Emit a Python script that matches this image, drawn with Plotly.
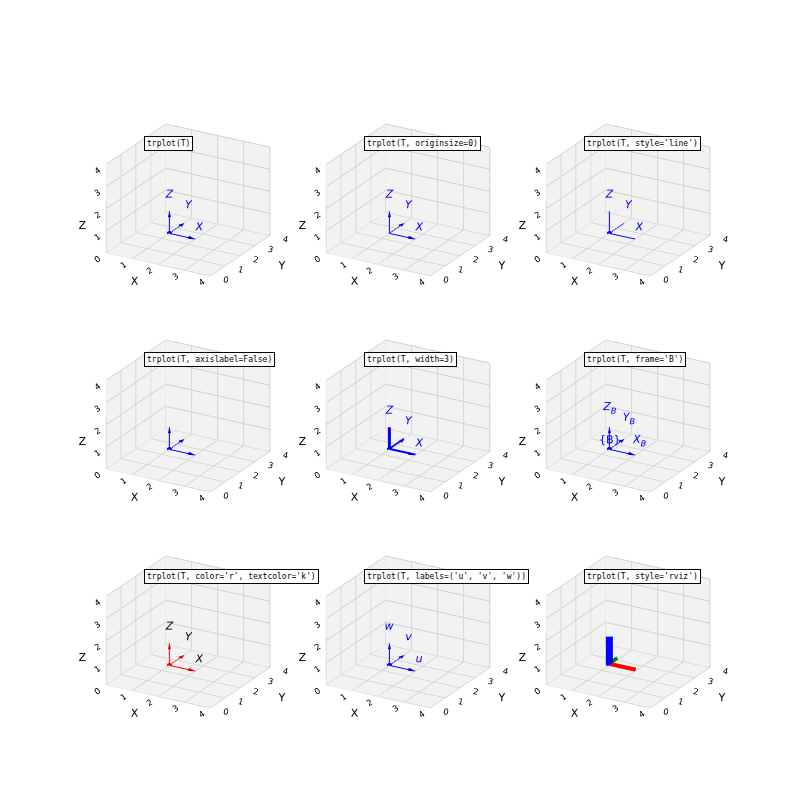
import plotly.graph_objects as go

titles = ["trplot(T)", "trplot(T, originsize=0)", "trplot(T, style='line')",
          "trplot(T, axislabel=False)", "trplot(T, width=3)", "trplot(T, frame='B')",
          "trplot(T, color='r', textcolor='k')", "trplot(T, labels=('u', 'v', 'w'))", "trplot(T, style='rviz')"]
origin = [1, 2.5, 0]
axis_dirs = [[1, 0, 0], [0, 1, 0], [0, 0, 1]]
ticks = [0, 1, 2, 3, 4]

cfg = [
    dict(color='blue', tc='blue', labels=['X', 'Y', 'Z'], dot=True, cone=True, w=2, style='arrow'),
    dict(color='blue', tc='blue', labels=['X', 'Y', 'Z'], dot=False, cone=True, w=2, style='arrow'),
    dict(color='blue', tc='blue', labels=['X', 'Y', 'Z'], dot=True, cone=False, w=2, style='line'),
    dict(color='blue', tc='blue', labels=None, dot=True, cone=True, w=2, style='arrow'),
    dict(color='blue', tc='blue', labels=['X', 'Y', 'Z'], dot=True, cone=True, w=6, style='arrow'),
    dict(color='blue', tc='blue', labels=['X<sub>B</sub>', 'Y<sub>B</sub>', 'Z<sub>B</sub>'], dot=True, cone=True, w=2, style='arrow', frame='{B}'),
    dict(color='red', tc='black', labels=['X', 'Y', 'Z'], dot=True, cone=True, w=2, style='arrow'),
    dict(color='blue', tc='blue', labels=['u', 'v', 'w'], dot=True, cone=True, w=2, style='arrow'),
    dict(color=None, tc=None, labels=None, dot=True, cone=False, w=14, style='rviz'),
]

fig = go.Figure()
cols = [(0.08, 0.37), (0.355, 0.645), (0.63, 0.92)]
rows = [(0.61, 0.91), (0.34, 0.64), (0.07, 0.37)]
rviz_cols = ['red', 'green', 'blue']
rviz_len = [1.0, 0.6, 1.3]
lab_off = [[1.2, -0.1, 0], [0.15, 1.05, 0.2], [0, 0, 1.12]]

for i, c in enumerate(cfg):
    sc = 'scene' if i == 0 else f'scene{i+1}'
    for k, d in enumerate(axis_dirs):
        col = rviz_cols[k] if c['style'] == 'rviz' else c['color']
        L = rviz_len[k] if c['style'] == 'rviz' else 1.0
        end = [origin[j] + L * d[j] for j in range(3)]
        fig.add_trace(go.Scatter3d(x=[origin[0], end[0]], y=[origin[1], end[1]], z=[origin[2], end[2]],
                                   mode='lines', line=dict(color=col, width=c['w']), showlegend=False, scene=sc))
        if c['cone']:
            fig.add_trace(go.Cone(x=[end[0]], y=[end[1]], z=[end[2]], u=[d[0]], v=[d[1]], w=[d[2]],
                                  anchor='tip', sizemode='absolute', sizeref=0.25, showscale=False,
                                  colorscale=[[0, col], [1, col]], scene=sc))
        if c['labels']:
            o = lab_off[k]
            fig.add_trace(go.Scatter3d(x=[origin[0] + o[0]], y=[origin[1] + o[1]], z=[origin[2] + o[2]],
                                       mode='text', text=[f"<i>{c['labels'][k]}</i>"],
                                       textfont=dict(color=c['tc'], size=11), showlegend=False, scene=sc))
    if c['dot']:
        dc = 'blue' if c['style'] == 'rviz' else c['color']
        fig.add_trace(go.Scatter3d(x=[origin[0]], y=[origin[1]], z=[origin[2]], mode='markers',
                                   marker=dict(color=dc, size=3), showlegend=False, scene=sc))
    if c.get('frame'):
        fig.add_trace(go.Scatter3d(x=[origin[0] + 0.3], y=[origin[1] - 0.5], z=[origin[2]], mode='text',
                                   text=['{B}'], textfont=dict(color='blue', size=11), showlegend=False, scene=sc))
    ax = dict(range=[0, 4], tickvals=ticks, showbackground=True, backgroundcolor='#f2f2f2',
              gridcolor='#d0d0d0', showspikes=False, tickfont=dict(size=10, color='black'))
    r, cc = divmod(i, 3)
    fig.update_layout(**{sc: dict(
        domain=dict(x=list(cols[cc]), y=list(rows[r])),
        xaxis=dict(ax, title=dict(text='X', font=dict(size=11, color='black'))),
        yaxis=dict(ax, title=dict(text='Y', font=dict(size=11, color='black'))),
        zaxis=dict(ax, title=dict(text='Z', font=dict(size=11, color='black'))),
        aspectmode='manual', aspectratio=dict(x=1, y=1, z=0.8),
        camera=dict(eye=dict(x=1.0, y=-1.75, z=0.85), projection=dict(type='orthographic')),
    )})
    fig.add_annotation(text=titles[i], xref='paper', yref='paper', x=cols[cc][0] + 0.09, y=rows[r][1] - 0.08,
                       xanchor='left', yanchor='middle', showarrow=False,
                       font=dict(family='DejaVu Sans Mono', size=8, color='black'),
                       bordercolor='black', borderwidth=1, borderpad=2, bgcolor='white')

fig.update_layout(width=800, height=800, margin=dict(l=0, r=0, t=0, b=0),
                  paper_bgcolor='white', font=dict(family='DejaVu Sans'))
fig.write_html("out.html")
